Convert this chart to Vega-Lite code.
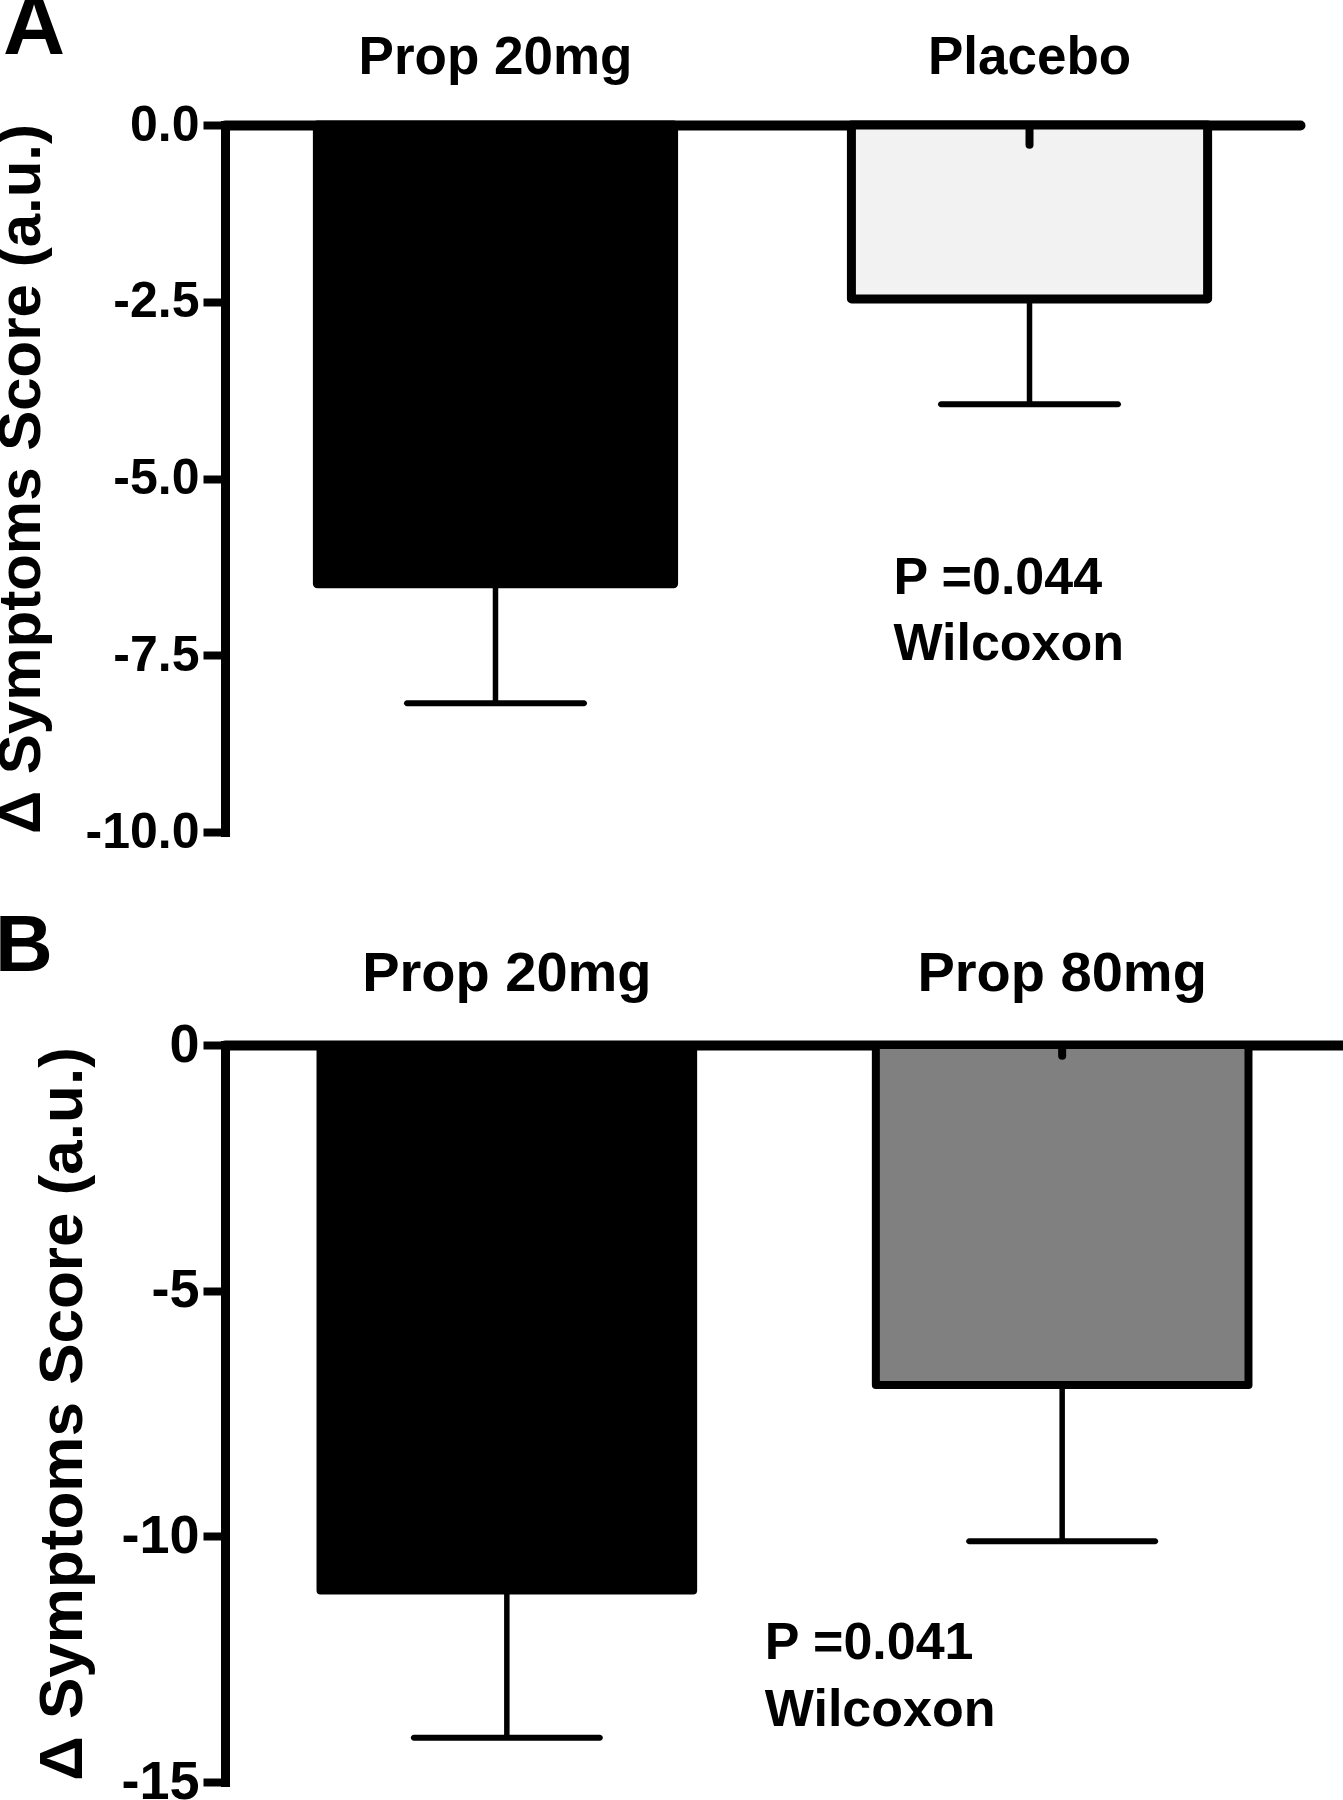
{
  "$schema": "https://vega.github.io/schema/vega-lite/v6.json",
  "background": "white",
  "padding": {"left": -9, "top": -15, "right": 0, "bottom": 0},
  "spacing": 50,
  "resolve": {"scale": {"fill": "independent"}},
  "config": {
    "view": {"stroke": null},
    "font": "Liberation Sans",
    "axis": {
      "grid": false,
      "domainColor": "black",
      "tickColor": "black",
      "labelColor": "black",
      "titleColor": "black",
      "labelFont": "Liberation Sans",
      "titleFont": "Liberation Sans",
      "labelFontWeight": "bold",
      "titleFontWeight": "bold",
      "labelLimit": 600
    },
    "title": {"font": "Liberation Sans", "fontWeight": "bold", "color": "black"}
  },
  "vconcat": [
    {
      "title": {"text": "A", "anchor": "start", "frame": "group", "fontSize": 86, "offset": -41, "dx": -222},
      "width": 1075,
      "height": 707,
      "data": {
        "values": [
          {"group": "Prop 20mg", "mean": -6.49, "err": -8.18, "stub": -0.28},
          {"group": "Placebo", "mean": -2.46, "err": -3.95, "stub": -0.28}
        ]
      },
      "encoding": {
        "x": {
          "field": "group",
          "type": "nominal",
          "scale": {"domain": ["Prop 20mg", "Placebo"], "paddingInner": 0.333, "paddingOuter": 0.173},
          "axis": {"orient": "top", "title": null, "labelAngle": 0, "ticks": false, "labelPadding": 41, "labelFontSize": 53, "domainWidth": 10, "domainCap": "round"}
        }
      },
      "layer": [
        {
          "mark": {"type": "rule", "color": "black", "strokeWidth": 5.5},
          "encoding": {
            "y": {
              "field": "mean",
              "type": "quantitative",
              "scale": {"domain": [-10, 0], "nice": false},
              "axis": {
                "title": "Δ Symptoms Score (a.u.)",
                "titleFontSize": 60,
                "titlePadding": 33,
                "values": [0, -2.5, -5, -7.5, -10],
                "labelExpr": "datum.value == 0 ? '0.0' : '-' + format(-datum.value, '.1f')",
                "labelFontSize": 50,
                "labelPadding": 4,
                "tickSize": 22,
                "tickWidth": 8,
                "domainWidth": 9,
                "domainCap": "square"
              }
            },
            "y2": {"field": "err"}
          }
        },
        {
          "mark": {"type": "tick", "orient": "horizontal", "color": "black", "opacity": 1, "size": 183, "thickness": 6, "cornerRadius": 3},
          "encoding": {"y": {"field": "err", "type": "quantitative"}}
        },
        {
          "mark": {"type": "bar", "stroke": "black", "strokeWidth": 9, "strokeJoin": "round"},
          "encoding": {
            "y": {"field": "mean", "type": "quantitative"},
            "fill": {
              "field": "group",
              "type": "nominal",
              "scale": {"domain": ["Prop 20mg", "Placebo"], "range": ["#000000", "#f2f2f2"]},
              "legend": null
            }
          }
        },
        {
          "mark": {"type": "rule", "color": "black", "strokeWidth": 8, "strokeCap": "round"},
          "encoding": {"y": {"field": "stub", "type": "quantitative"}, "y2": {"datum": 0}}
        },
        {
          "data": {
            "values": [
              {"group": "Placebo", "ypos": -6.63, "label": "P =0.044"},
              {"group": "Placebo", "ypos": -7.57, "label": "Wilcoxon"}
            ]
          },
          "mark": {"type": "text", "align": "left", "baseline": "alphabetic", "fontSize": 52, "fontWeight": "bold", "color": "black", "dx": 42},
          "encoding": {
            "x": {"field": "group", "type": "nominal", "bandPosition": 0},
            "y": {"field": "ypos", "type": "quantitative"},
            "text": {"field": "label", "type": "nominal"}
          }
        }
      ]
    },
    {
      "title": {"text": "B", "anchor": "start", "frame": "group", "fontSize": 80, "offset": -43, "dx": -230},
      "width": 1119,
      "height": 737,
      "data": {
        "values": [
          {"group": "Prop 20mg", "mean": -11.1, "err": -14.1, "stub": -0.22},
          {"group": "Prop 80mg", "mean": -6.92, "err": -10.1, "stub": -0.22}
        ]
      },
      "encoding": {
        "x": {
          "field": "group",
          "type": "nominal",
          "scale": {"domain": ["Prop 20mg", "Prop 80mg"], "paddingInner": 0.329, "paddingOuter": 0.172},
          "axis": {"orient": "top", "title": null, "labelAngle": 0, "ticks": false, "labelPadding": 43, "labelFontSize": 56, "domainWidth": 10, "domainCap": "round"}
        }
      },
      "layer": [
        {
          "mark": {"type": "rule", "color": "black", "strokeWidth": 5.5},
          "encoding": {
            "y": {
              "field": "mean",
              "type": "quantitative",
              "scale": {"domain": [-15, 0], "nice": false},
              "axis": {
                "title": "Δ Symptoms Score (a.u.)",
                "titleFontSize": 62,
                "titlePadding": 26,
                "values": [0, -5, -10, -15],
                "labelExpr": "datum.value == 0 ? '0' : '-' + format(-datum.value, 'd')",
                "labelFontSize": 54,
                "labelPadding": 4,
                "tickSize": 22,
                "tickWidth": 8,
                "domainWidth": 9,
                "domainCap": "square"
              }
            },
            "y2": {"field": "err"}
          }
        },
        {
          "mark": {"type": "tick", "orient": "horizontal", "color": "black", "opacity": 1, "size": 192, "thickness": 6, "cornerRadius": 3},
          "encoding": {"y": {"field": "err", "type": "quantitative"}}
        },
        {
          "mark": {"type": "bar", "stroke": "black", "strokeWidth": 8, "strokeJoin": "round"},
          "encoding": {
            "y": {"field": "mean", "type": "quantitative"},
            "fill": {
              "field": "group",
              "type": "nominal",
              "scale": {"domain": ["Prop 20mg", "Prop 80mg"], "range": ["#000000", "#808080"]},
              "legend": null
            }
          }
        },
        {
          "mark": {"type": "rule", "color": "black", "strokeWidth": 8, "strokeCap": "round"},
          "encoding": {"y": {"field": "stub", "type": "quantitative"}, "y2": {"datum": 0}}
        },
        {
          "data": {
            "values": [
              {"group": "Prop 80mg", "ypos": -12.5, "label": "P =0.041"},
              {"group": "Prop 80mg", "ypos": -13.87, "label": "Wilcoxon"}
            ]
          },
          "mark": {"type": "text", "align": "left", "baseline": "alphabetic", "fontSize": 52, "fontWeight": "bold", "color": "black", "dx": -111},
          "encoding": {
            "x": {"field": "group", "type": "nominal", "bandPosition": 0},
            "y": {"field": "ypos", "type": "quantitative"},
            "text": {"field": "label", "type": "nominal"}
          }
        }
      ]
    }
  ]
}
